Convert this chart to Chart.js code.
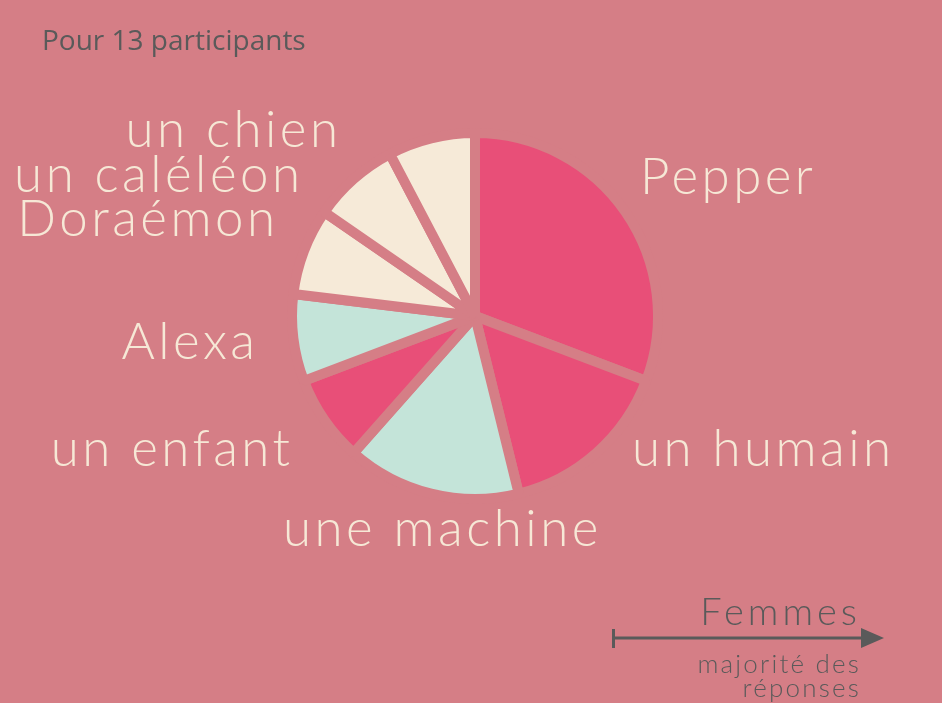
<!DOCTYPE html>
<html>
<head>
<meta charset="utf-8">
<script src="https://cdn.jsdelivr.net/npm/chart.js@4.4.0/dist/chart.umd.min.js"></script>
<style>
  html, body { margin: 0; padding: 0; background: #d57e86; }
  #wrap { width: 942px; height: 703px; position: relative; }
</style>
</head>
<body>
<div id="wrap"><canvas id="myChart" width="942" height="703"></canvas></div>
<script>
// data
const labels = ["Pepper", "un humain", "une machine", "un enfant", "Alexa", "Doraémon", "un caléléon", "un chien"];
const counts = [4, 2, 2, 1, 1, 1, 1, 1];
const sliceColors = ["#e84f78", "#e84f78", "#c4e4d9", "#e84f78", "#c4e4d9", "#f6ead8", "#f6ead8", "#f6ead8"];

const bg = "#d57e86";
const cream = "#f6e8d6";
const grey = "#5a5a5a";

// where each slice label goes (x, y, align)
const labelPos = [
  [640, 178, "left"],
  [632, 450, "left"],
  [283, 530, "left"],
  [290, 450, "right"],
  [255, 343, "right"],
  [275, 220, "right"],
  [300, 176, "right"],
  [338, 131, "right"],
];

// plugin - texts around the pie, title and arrow
const decorations = {
  id: "decorations",
  afterDraw(chart) {
    const { ctx } = chart;
    ctx.save();
    ctx.textBaseline = "middle";
    ctx.fillStyle = cream;
    ctx.font = "300 51px Lato, 'Open Sans', sans-serif";
    ctx.letterSpacing = "3.5px";
    labels.forEach((l, i) => {
      const [x, y, a] = labelPos[i];
      ctx.textAlign = a;
      // letterSpacing adds trailing space at the end, shift right-aligned text
      ctx.fillText(l, a === "right" ? x + 3.5 : x, y);
    });

    // title
    ctx.letterSpacing = "0px";
    ctx.fillStyle = grey;
    ctx.textAlign = "left";
    ctx.textBaseline = "alphabetic";
    ctx.font = "28px 'Open Sans', sans-serif";
    ctx.fillText("Pour 13 participants", 42, 50);

    // arrow
    ctx.strokeStyle = grey;
    ctx.lineWidth = 3;
    ctx.beginPath();
    ctx.moveTo(613, 638);
    ctx.lineTo(872, 638);
    ctx.moveTo(613.5, 629);
    ctx.lineTo(613.5, 648);
    ctx.stroke();
    ctx.fillStyle = grey;
    ctx.beginPath();
    ctx.moveTo(884, 638);
    ctx.lineTo(861, 628);
    ctx.lineTo(861, 648);
    ctx.closePath();
    ctx.fill();

    ctx.textAlign = "right";
    ctx.font = "300 38px Lato, 'Open Sans', sans-serif";
    ctx.letterSpacing = "4px";
    ctx.fillText("Femmes", 861, 625);
    ctx.font = "300 26px Lato, 'Open Sans', sans-serif";
    ctx.letterSpacing = "2.2px";
    ctx.fillText("majorité des", 861, 673);
    ctx.fillText("réponses", 861, 697);
    ctx.restore();
  },
};

// config block
const config = {
  type: "pie",
  data: {
    labels: labels,
    datasets: [
      {
        data: counts,
        backgroundColor: sliceColors,
        borderColor: bg,
        borderWidth: 10,
        borderJoinStyle: "bevel",
      },
    ],
  },
  options: {
    responsive: false,
    animation: false,
    layout: { padding: { left: 287, right: 279, top: 128, bottom: 199 } },
    plugins: {
      legend: { display: false },
      tooltip: { enabled: false },
    },
  },
  plugins: [decorations],
};

// render init block
const myChart = new Chart(document.getElementById("myChart"), config);
</script>
</body>
</html>
